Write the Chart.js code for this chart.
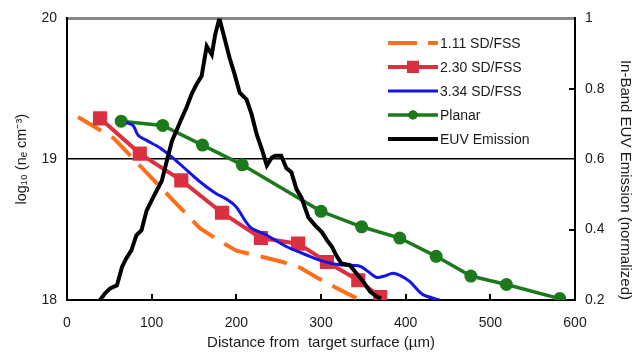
<!DOCTYPE html>
<html>
<head>
<meta charset="utf-8">
<script src="https://cdn.jsdelivr.net/npm/chart.js@4.4.1/dist/chart.umd.min.js"></script>
<style>
html, body { margin: 0; padding: 0; background: #fff; }
</style>
</head>
<body>
<canvas id="c" width="641" height="355"></canvas>
<script>
// axis ticks
var xTicks = [0, 100, 200, 300, 400, 500, 600];
var yTicks = [18, 19, 20];
var y2Ticks = [0.2, 0.4, 0.6, 0.8, 1];

// 1.11 SD/FSS (dashed orange)
var sd111X = [13, 55, 90, 125, 157, 180, 200, 228, 255, 275, 295, 320, 346];
var sd111Y = [19.30, 19.15, 18.93, 18.71, 18.51, 18.42, 18.35, 18.31, 18.27, 18.23, 18.16, 18.08, 18.0];

// 2.30 SD/FSS (red squares)
var sd230X = [39, 86, 135, 183, 229, 273, 307, 344, 370];
var sd230Y = [19.29, 19.04, 18.85, 18.62, 18.44, 18.40, 18.27, 18.14, 18.02];

// 3.34 SD/FSS (blue)
var sd334X = [70, 78, 84, 95, 110, 125, 140, 157, 175, 190, 200, 216, 236, 259, 287, 300, 322, 346, 356, 366, 375, 385, 395, 405, 420, 440];
var sd334Y = [19.26, 19.24, 19.17, 19.13, 19.08, 19.01, 18.93, 18.84, 18.76, 18.71, 18.66, 18.52, 18.46, 18.38, 18.31, 18.28, 18.25, 18.24, 18.20, 18.16, 18.17, 18.19, 18.17, 18.13, 18.04, 18.0];

// Planar (green circles)
var planarX = [64, 113, 160, 207, 300, 348, 393, 436, 477, 519, 582];
var planarY = [19.27, 19.24, 19.10, 18.96, 18.63, 18.52, 18.44, 18.31, 18.17, 18.11, 18.01];

// EUV emission, normalized (right axis)
var euvX = [39, 45, 51, 59, 65, 70, 76, 82, 88, 94, 100, 106, 112, 118, 124, 130, 135, 141, 147, 153, 159, 165, 171, 175, 180, 186, 192, 198, 204, 212, 218, 224, 230, 236, 242, 246, 253, 259, 265, 271, 277, 285, 293, 301, 307, 313, 318, 324, 334, 342, 350, 358, 366, 371];
var euvY = [0.20, 0.219, 0.233, 0.242, 0.294, 0.318, 0.341, 0.384, 0.398, 0.454, 0.483, 0.511, 0.539, 0.596, 0.652, 0.685, 0.714, 0.746, 0.784, 0.813, 0.836, 0.921, 0.897, 0.954, 1.0, 0.944, 0.888, 0.841, 0.789, 0.770, 0.728, 0.671, 0.629, 0.582, 0.605, 0.610, 0.610, 0.575, 0.563, 0.515, 0.490, 0.435, 0.412, 0.393, 0.370, 0.351, 0.327, 0.304, 0.299, 0.275, 0.252, 0.224, 0.209, 0.205];

var labels = ['1.11 SD/FSS', '2.30 SD/FSS', '3.34 SD/FSS', 'Planar', 'EUV Emission'];

var ORANGE = '#ff6f1a';
var RED = '#dc3040';
var BLUE = '#1414e6';
var GREEN = '#1c7a1c';
var BLACK = '#000000';
var TEXT = '#1a1a1a';
var FONT = 'Liberation Sans, Arial, sans-serif';

function pts(xs, ys) {
    var out = [];
    for(var i = 0; i < xs.length; i++) {
        out.push({x: xs[i], y: ys[i]});
    }
    return out;
}

var datasets = [
    {
        label: labels[4], data: pts(euvX, euvY), yAxisID: 'y2',
        borderColor: BLACK, borderWidth: 4, pointRadius: 0, tension: 0, order: 0,
        legendStyle: {dash: [], point: null}
    },
    {
        label: labels[2], data: pts(sd334X, sd334Y), yAxisID: 'y',
        borderColor: BLUE, borderWidth: 3, pointRadius: 0, tension: 0.3, order: 1,
        legendStyle: {dash: [], point: null}
    },
    {
        label: labels[1], data: pts(sd230X, sd230Y), yAxisID: 'y',
        borderColor: RED, backgroundColor: RED, borderWidth: 4,
        pointStyle: 'rect', pointRadius: 10, pointBorderWidth: 0, order: 2,
        legendStyle: {dash: [], point: 'rect', r: 8.5}
    },
    {
        label: labels[3], data: pts(planarX, planarY), yAxisID: 'y',
        borderColor: GREEN, backgroundColor: GREEN, borderWidth: 3.5,
        pointStyle: 'circle', pointRadius: 6.5, pointBorderWidth: 0, order: 3,
        legendStyle: {dash: [], point: 'circle', r: 4.5}
    },
    {
        label: labels[0], data: pts(sd111X, sd111Y), yAxisID: 'y',
        borderColor: ORANGE, borderWidth: 4, borderDash: [27, 12], pointRadius: 0, tension: 0, order: 4,
        legendStyle: {dash: [29, 11], point: null}
    }
];

// inward tick marks on bottom and right axes
var innerTicks = {
    id: 'innerTicks',
    afterDraw: function(chart) {
        var ctx = chart.ctx;
        var a = chart.chartArea;
        var sx = chart.scales.x;
        var sy2 = chart.scales.y2;
        ctx.save();
        ctx.strokeStyle = BLACK;
        ctx.lineWidth = 2;
        ctx.beginPath();
        xTicks.forEach(function(v) {
            if(v == 0 || v == 600) return;
            var px = Math.round(sx.getPixelForValue(v));
            ctx.moveTo(px, a.bottom);
            ctx.lineTo(px, a.bottom - 6);
        });
        [0.4, 0.8].forEach(function(v) {
            var py = Math.round(sy2.getPixelForValue(v));
            ctx.moveTo(a.right, py);
            ctx.lineTo(a.right - 6, py);
        });
        ctx.stroke();
        ctx.restore();
    }
};

// legend drawn inside the plot area
var innerLegend = {
    id: 'innerLegend',
    afterDraw: function(chart) {
        var ctx = chart.ctx;
        var a = chart.chartArea;
        var x0 = a.left + 321;
        var x1 = x0 + 50;
        var y0 = a.top + 24.5;
        var step = 24;
        var order = [4, 2, 1, 3, 0];
        ctx.save();
        ctx.font = '14px ' + FONT;
        ctx.textBaseline = 'middle';
        ctx.fillStyle = TEXT;
        order.forEach(function(di, i) {
            var ds = chart.data.datasets[di];
            var st = ds.legendStyle;
            var y = y0 + i * step;
            ctx.strokeStyle = ds.borderColor;
            ctx.lineWidth = ds.borderWidth;
            ctx.setLineDash(st.dash);
            ctx.beginPath();
            ctx.moveTo(x0, y);
            ctx.lineTo(x1, y);
            ctx.stroke();
            ctx.setLineDash([]);
            if(st.point) {
                Chart.helpers.drawPoint(ctx, {pointStyle: st.point, radius: st.r, borderWidth: 0}, (x0 + x1) / 2, y);
                ctx.fillStyle = ds.backgroundColor;
                ctx.fill();
            }
            ctx.fillStyle = TEXT;
            ctx.fillText(ds.label, x1 + 2, y + 1);
        });
        ctx.restore();
    }
};

new Chart(document.getElementById('c'), {
    type: 'line',
    data: {datasets: datasets},
    options: {
        responsive: false,
        animation: false,
        events: [],
        layout: {padding: {top: 17}},
        plugins: {
            legend: {display: false},
            tooltip: {enabled: false}
        },
        scales: {
            x: {
                type: 'linear', min: 0, max: 600,
                afterFit: function(s) { s.height = 55; },
                afterBuildTicks: function(s) { s.ticks = xTicks.map(function(v) { return {value: v}; }); },
                grid: {display: false, drawTicks: false},
                border: {color: BLACK, width: 2},
                ticks: {color: TEXT, font: {family: FONT, size: 14}, padding: 15, maxRotation: 0},
                title: {display: true, text: 'Distance from  target surface (\u00b5m)', color: TEXT,
                        font: {family: FONT, size: 15}, padding: {top: 0, bottom: 3}}
            },
            y: {
                type: 'linear', position: 'left', min: 18, max: 20,
                afterFit: function(s) { s.width = 67; },
                afterBuildTicks: function(s) { s.ticks = yTicks.map(function(v) { return {value: v}; }); },
                grid: {
                    drawTicks: false,
                    color: function(c) {
                        if(c.tick && c.tick.value == 19) return BLACK;
                        if(c.tick && c.tick.value == 20) return '#888888';
                        return 'rgba(0,0,0,0)';
                    },
                    lineWidth: function(c) { return (c.tick && c.tick.value == 20) ? 3 : 1.5; }
                },
                border: {color: BLACK, width: 2},
                ticks: {color: TEXT, font: {family: FONT, size: 14}, padding: 10},
                title: {display: true, text: 'log\u2081\u2080 (n\u2091 cm\u207b\u00b3)', color: TEXT,
                        font: {family: FONT, size: 14.5}, padding: {top: 13, bottom: 0}}
            },
            y2: {
                type: 'linear', position: 'right', min: 0.2, max: 1,
                afterFit: function(s) { s.width = 66; },
                afterBuildTicks: function(s) { s.ticks = y2Ticks.map(function(v) { return {value: v}; }); },
                grid: {display: false, drawTicks: false},
                border: {color: BLACK, width: 2},
                ticks: {color: TEXT, font: {family: FONT, size: 14}, padding: 10,
                        callback: function(v) { return String(Number(v.toFixed(1))); }},
                title: {display: true, text: 'In-Band EUV Emission (normalized)', color: TEXT, align: 'start',
                        font: {family: FONT, size: 15}, padding: {top: 7, bottom: 0}}
            }
        }
    },
    plugins: [innerTicks, innerLegend]
});
</script>
</body>
</html>
